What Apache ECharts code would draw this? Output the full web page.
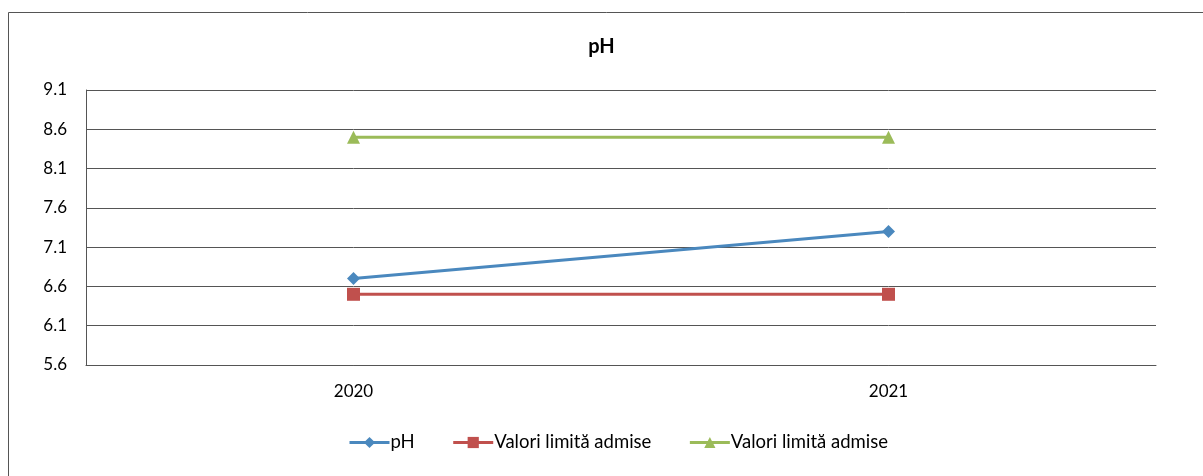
<!DOCTYPE html>
<html>
<head>
<meta charset="utf-8">
<script src="https://cdn.jsdelivr.net/npm/echarts@6/dist/echarts.min.js"></script>
<style>
html,body{margin:0;padding:0;background:#fff;}
#c{width:1203px;height:476px;}
</style>
</head>
<body>
<div id="c"></div>
<script>
var categories = ['2020', '2021'];
var phValues = [6.7, 7.3];
var limitLow = [6.5, 6.5];
var limitHigh = [8.5, 8.5];
var seriesNames = ['pH', 'Valori limită admise', 'Valori limită admise '];
var chartTitle = 'pH';

var chart = echarts.init(document.getElementById('c'));
var font = 'Lato, "Open Sans", sans-serif';
chart.setOption({
  animation: false,
  backgroundColor: '#fff',
  graphic: [{
    type: 'rect', shape: {x: 8.5, y: 12.5, width: 1220, height: 500},
    style: {fill: 'none', stroke: '#555', lineWidth: 1}, silent: true
  }],
  title: {
    text: chartTitle, left: 'center', top: 32,
    textStyle: {fontFamily: font, fontSize: 20, fontWeight: 'bold', color: '#000'}
  },
  grid: {left: 86, right: 47, top: 90, bottom: 111},
  legend: {
    top: 428, left: 343, itemGap: 37, itemWidth: 40, itemHeight: 14,
    lineStyle: {width: 3},
    textStyle: {fontFamily: font, fontSize: 18.5, color: '#000', padding: [0,0,0,-4]},
    data: seriesNames
  },
  xAxis: {
    type: 'category', data: categories, boundaryGap: true,
    axisLine: {show: true, lineStyle: {color: '#555', width: 1}},
    axisTick: {show: false},
    axisLabel: {fontFamily: font, fontSize: 17, color: '#000', margin: 18}
  },
  yAxis: {
    type: 'value', min: 5.6, max: 9.1, interval: 0.5,
    axisLine: {show: true, lineStyle: {color: '#555', width: 1}},
    axisTick: {show: false},
    splitLine: {lineStyle: {color: '#555', width: 1}},
    axisLabel: {fontFamily: font, fontSize: 17, color: '#000', margin: 19,
      formatter: function (v) { return v.toFixed(1); }}
  },
  series: [
    {name: seriesNames[0], type: 'line', data: phValues, symbol: 'diamond', symbolSize: 13,
     itemStyle: {color: '#4A88BE'}, lineStyle: {width: 3, color: '#4A88BE'}},
    {name: seriesNames[1], type: 'line', data: limitLow, symbol: 'rect', symbolSize: 13,
     itemStyle: {color: '#C0504D'}, lineStyle: {width: 3, color: '#C0504D'}},
    {name: seriesNames[2], type: 'line', data: limitHigh, symbol: 'triangle', symbolSize: 13,
     itemStyle: {color: '#9BBB59'}, lineStyle: {width: 3, color: '#9BBB59'}}
  ]
});
</script>
</body>
</html>
